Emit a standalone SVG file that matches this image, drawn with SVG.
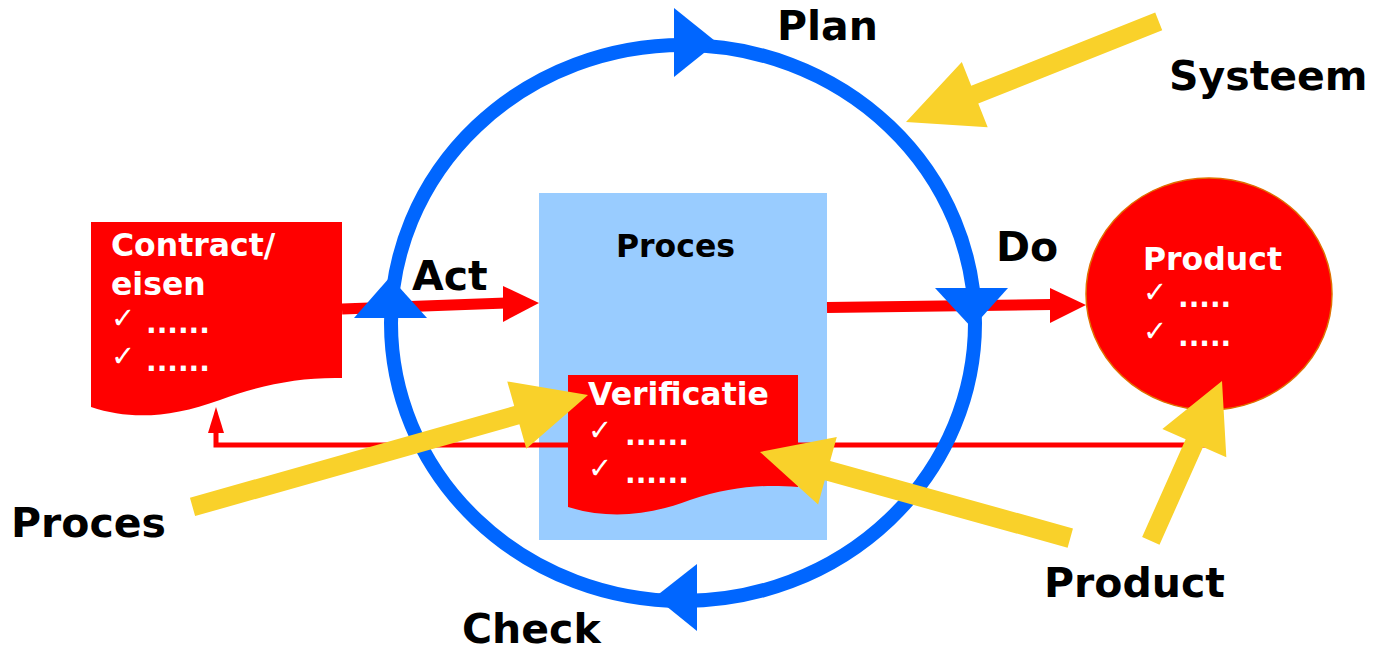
<svg xmlns="http://www.w3.org/2000/svg" width="1377" height="652" viewBox="0 0 1377 652">
<style>
.lbl{font-family:"DejaVu Sans","Liberation Sans",sans-serif;font-weight:bold;font-size:41px;fill:#000}
.wt{font-family:"DejaVu Sans","Liberation Sans",sans-serif;font-weight:bold;font-size:31.5px;fill:#fff}
.dots{font-family:"DejaVu Sans","Liberation Sans",sans-serif;font-weight:bold;font-size:28px;fill:#fff}
.chk{font-family:"DejaVu Sans",sans-serif;font-size:29px;fill:#fff}
.red{fill:#ff0000}
.blue{fill:#0066ff}
.yel{fill:#f9d12a}
</style>
<rect width="1377" height="652" fill="#fff"/>

<g id="proces-box">
  <rect x="539" y="193" width="288" height="347" fill="#99ccff"/>
  <text class="wt" x="616" y="257" style="fill:#000">Proces</text>
</g>

<g id="connectors">
  <!-- feedback line -->
  <polyline points="1220,445 216,445 216,430" fill="none" stroke="#ff0000" stroke-width="5"/>
  <polygon class="red" points="208,433 224,433 216,407"/>
  <!-- Act arrow -->
  <line x1="342" y1="309" x2="506" y2="303" stroke="#ff0000" stroke-width="11"/>
  <polygon class="red" points="503,286 503,322 539,303"/>
  <!-- Do arrow -->
  <line x1="827" y1="307.5" x2="1052" y2="304.5" stroke="#ff0000" stroke-width="11"/>
  <polygon class="red" points="1050,288 1050,323 1086,305"/>
  <!-- PDCA cycle -->
  <ellipse cx="683" cy="323" rx="292" ry="278" fill="none" stroke="#0066ff" stroke-width="14"/>
  <polygon class="blue" points="674,8 674,77 717,42.5"/>
  <polygon class="blue" points="935,288 1008,288 972,328"/>
  <polygon class="blue" points="354,318 427,318 390,277"/>
  <polygon class="blue" points="697,564 697,631 655,597"/>
</g>

<g id="contract">
  <path class="red" d="M91,222 H342 V378 C300,377 260,385 220,400 C170,418 130,420 91,407 Z"/>
  <text class="wt" x="111" y="256">Contract/</text>
  <text class="wt" x="111" y="295">eisen</text>
  <text class="chk" x="111" y="328">✓</text>
  <text class="dots" x="146" y="333">......</text>
  <text class="chk" x="111" y="366">✓</text>
  <text class="dots" x="146" y="371">......</text>
</g>

<g id="verificatie">
  <path class="red" d="M568,375 H798 V487 C760,484 730,487 690,500 C650,515 610,520 568,507 Z"/>
  <text class="wt" x="588" y="405">Verificatie</text>
  <text class="chk" x="588" y="440">✓</text>
  <text class="dots" x="625" y="445">......</text>
  <text class="chk" x="588" y="478">✓</text>
  <text class="dots" x="625" y="483">......</text>
</g>

<g id="product">
  <ellipse cx="1209" cy="294" rx="123" ry="116" fill="#ff0000" stroke="#e07000" stroke-width="1.5"/>
  <text class="wt" x="1143" y="270">Product</text>
  <text class="chk" x="1143" y="302">✓</text>
  <text class="dots" x="1178" y="307">.....</text>
  <text class="chk" x="1143" y="341">✓</text>
  <text class="dots" x="1178" y="346">.....</text>
</g>

<g id="yellow-arrows">
  <polygon class="yel" transform="translate(906,122) rotate(158.3)" points="0,0 -74,-35 -74,-9.5 -272,-9.5 -272,9.5 -74,9.5 -74,35"/>
  <polygon class="yel" transform="translate(588,395) rotate(-15.8)" points="0,0 -74,-35 -74,-9.5 -411,-9.5 -411,9.5 -74,9.5 -74,35"/>
  <polygon class="yel" transform="translate(760,452) rotate(195.5)" points="0,0 -70,-35 -70,-10 -322,-10 -322,10 -70,10 -70,35"/>
  <polygon class="yel" transform="translate(1222,381) rotate(-66)" points="0,0 -68,-35 -68,-9.5 -175,-9.5 -175,9.5 -68,9.5 -68,35"/>
</g>

<g id="labels">
  <text class="lbl" x="777" y="40">Plan</text>
  <text class="lbl" x="1169" y="90">Systeem</text>
  <text class="lbl" x="996" y="261">Do</text>
  <text class="lbl" x="412" y="290">Act</text>
  <text class="lbl" x="11" y="537">Proces</text>
  <text class="lbl" x="1044" y="597">Product</text>
  <text class="lbl" x="462" y="643">Check</text>
</g>
</svg>
